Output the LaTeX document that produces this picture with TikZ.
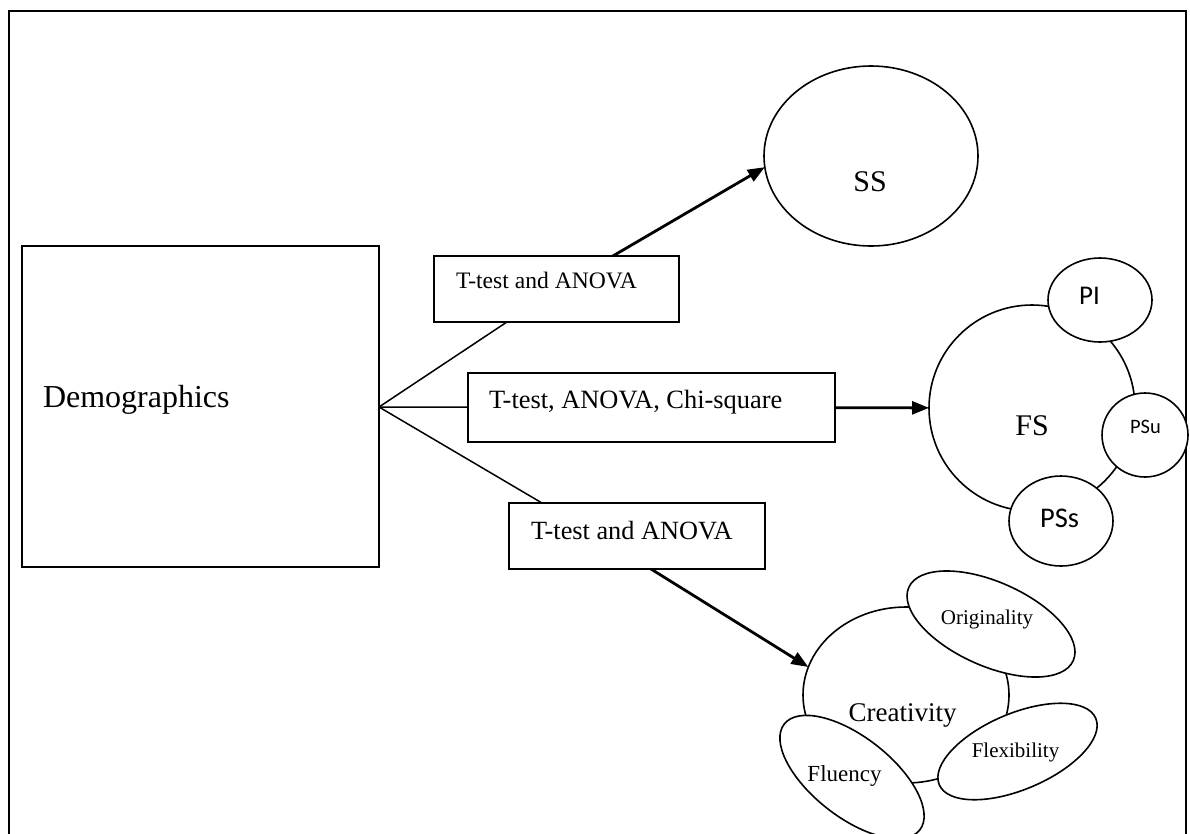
\documentclass[tikz,border=0pt]{standalone}
\usepackage{fontspec}
\setmainfont{Liberation Serif}
\newfontfamily\calibsans{Carlito}
\usetikzlibrary{shapes.geometric,arrows.meta,backgrounds}
\tikzset{
  boxnode/.style={draw, fill=white, line width=1.6pt, rectangle, inner sep=0pt, outer sep=0pt},
  ellnode/.style={draw, fill=white, line width=1.6pt, ellipse, inner sep=0pt, outer sep=0pt},
  txt/.style={inner sep=0pt, outer sep=0pt},
  fanline/.style={line width=1.5pt},
  arrline/.style={line width=2.8pt, -{Triangle[length=17pt,width=13pt]}},
}
\newcommand{\fsz}[1]{\fontsize{#1}{#1}\selectfont}
\begin{document}
\begin{tikzpicture}[x=1pt,y=-1pt]
\useasboundingbox (0,0) rectangle (1190,833);
% frame (bottom edge lies below the picture)
\draw[line width=2.2pt] (9,860) -- (9,11) -- (1186,11) -- (1186,860);

% Demographics
\node[boxnode, minimum width=357, minimum height=321] (demo) at (200.5,406.5) {};
\node[txt, anchor=base west] (tdemo) at (43,407) {\fsz{32}Demographics};
\coordinate (fan) at (379,407);

% test boxes
\node[boxnode, minimum width=245, minimum height=66] (b1) at (556.5,289) {};
\node[txt, anchor=base west] (t1) at (456,288) {\fsz{23.6}T-test and ANOVA};
\node[boxnode, minimum width=367, minimum height=69] (b2) at (651.5,407.5) {};
\node[txt, anchor=base west] (t2) at (489,408) {\fsz{26.4}T-test, ANOVA, Chi-square};
\node[boxnode, minimum width=256, minimum height=66] (b3) at (637,536) {};
\node[txt, anchor=base west] (t3) at (531,539) {\fsz{26.3}T-test and ANOVA};
\coordinate (j3) at (598,536);

% SS
\node[ellnode, minimum width=214, minimum height=180] (ss) at (871,156) {};
\node[txt, anchor=base] (tss) at (870,191) {\fsz{30}SS};

% FS group
\node[ellnode, minimum width=206, minimum height=206] (fs) at (1032,408) {};
\node[txt, anchor=base] (tfs) at (1032,435) {\fsz{30}FS};
\node[ellnode, minimum width=104, minimum height=84] (pi) at (1100,300) {};
\node[txt, anchor=base] (tpi) at (1089.5,304) {\calibsans\fsz{27}PI};
\node[ellnode, minimum width=86, minimum height=84] (psu) at (1145,435) {};
\node[txt, anchor=base] (tpsu) at (1145.5,433) {\calibsans\fsz{20.5}PSu};
\node[ellnode, minimum width=104, minimum height=90] (pss) at (1061,521) {};
\node[txt, anchor=base] (tpss) at (1059.5,527) {\calibsans\fsz{28.5}PSs};

% Creativity group
\node[ellnode, minimum width=206, minimum height=176] (cr) at (906,695) {};
\node[ellnode, minimum width=180, minimum height=84, rotate=-24] (orig) at (991,624) {};
\node[ellnode, minimum width=170, minimum height=76, rotate=23] (flex) at (1017.5,751.5) {};
\node[ellnode, minimum width=172, minimum height=80, rotate=-38] (flu) at (852,777) {};
\node[txt, anchor=base] (tcr) at (902.5,721) {\fsz{27}Creativity};
\node[txt, anchor=base] (torig) at (987,624) {\fsz{21}Originality};
\node[txt, anchor=base] (tflex) at (1015.5,757) {\fsz{21}Flexibility};
\node[txt, anchor=base] (tflu) at (844.5,781) {\fsz{23}Fluency};

% connectors
\begin{scope}[on background layer]
\draw[fanline] (fan) -- (b1);
\draw[arrline] (b1) -- (ss.186);
\draw[fanline] (fan) -- (b2);
\draw[arrline] (b2) -- (fs);
\draw[fanline] (fan) -- (j3);
\draw[arrline] (j3) -- (cr.164);
\end{scope}
\end{tikzpicture}
\end{document}
